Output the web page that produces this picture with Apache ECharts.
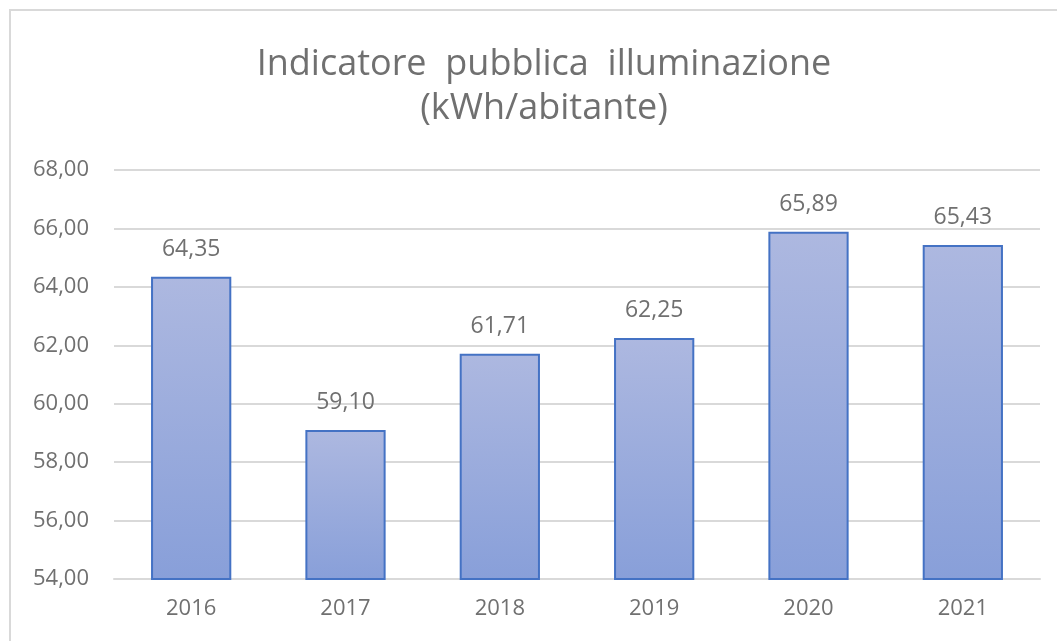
<!DOCTYPE html>
<html>
<head>
<meta charset="utf-8">
<title>Indicatore pubblica illuminazione</title>
<script src="https://cdn.jsdelivr.net/npm/echarts@6/dist/echarts.min.js"></script>
<style>
  html, body { margin: 0; padding: 0; background: #fff; }
  #frame {
    position: absolute; left: 9px; top: 9px; right: 0; bottom: 0;
    border-top: 2px solid #d9d9d9; border-left: 2px solid #d9d9d9;
  }
  #chart { position: absolute; left: 0; top: 0; width: 1057px; height: 641px; }
</style>
</head>
<body>
<div id="frame"></div>
<div id="chart"></div>
<script>
// dati
const years = ['2016', '2017', '2018', '2019', '2020', '2021']
const values = [64.35, 59.10, 61.71, 62.25, 65.89, 65.43]
const yMin = 54
const yMax = 68
const yStep = 2

const GRAY = '#707070'
const FONT = '"Open Sans", "Noto Sans", sans-serif'

const fmt = (v) => v.toFixed(2).replace('.', ',')

const chart = echarts.init(document.getElementById('chart'))

chart.setOption({
  animation: false,
  textStyle: { fontFamily: FONT },
  title: {
    text: 'Indicatore  pubblica  illuminazione\n(kWh/abitante)',
    left: 539,
    textAlign: 'center',
    top: 38,
    textStyle: {
      fontFamily: FONT,
      fontSize: 36,
      fontWeight: 'normal',
      color: GRAY,
      lineHeight: 44,
    },
  },
  grid: { left: 114, right: 17, top: 170, bottom: 62 },
  xAxis: {
    type: 'category',
    data: years,
    axisTick: { show: false },
    axisLine: { lineStyle: { color: '#d9d9d9', width: 2 } },
    axisLabel: { color: GRAY, fontSize: 22, margin: 19 },
  },
  yAxis: {
    type: 'value',
    min: yMin,
    max: yMax,
    interval: yStep,
    axisLine: { show: false },
    axisTick: { show: false },
    splitLine: { lineStyle: { color: '#d9d9d9', width: 2 } },
    axisLabel: { color: GRAY, fontSize: 22, margin: 25, formatter: fmt },
  },
  series: [
    {
      type: 'bar',
      data: values,
      barWidth: '52%',
      itemStyle: {
        color: new echarts.graphic.LinearGradient(0, 0, 0, 1, [
          { offset: 0, color: '#adb8e0' },
          { offset: 1, color: '#889fd9' },
        ]),
        borderColor: '#4472c4',
        borderWidth: 2,
      },
      label: {
        show: true,
        position: 'top',
        distance: 16,
        color: GRAY,
        fontSize: 23,
        formatter: (p) => fmt(p.value),
      },
    },
  ],
})
</script>
</body>
</html>
